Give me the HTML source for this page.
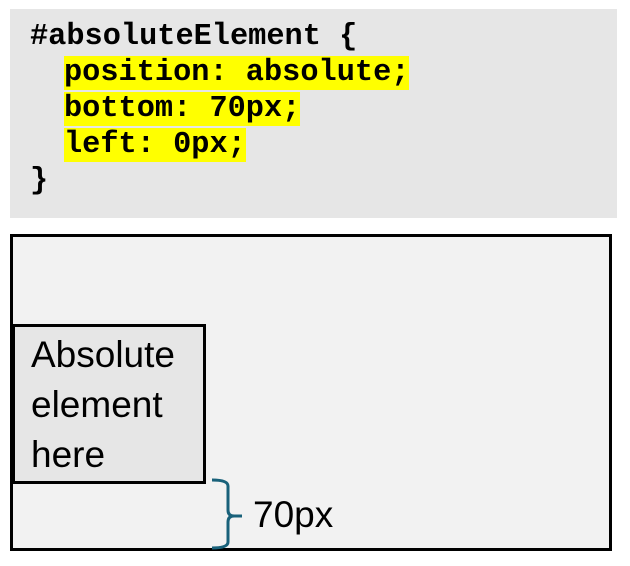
<!DOCTYPE html>
<html><head><style>
body{margin:0;width:630px;height:566px;background:#fff;position:relative;overflow:hidden}
.code{position:absolute;left:10px;top:9px;width:607px;height:209px;background:#e6e6e6}
.ln{position:absolute;font-family:"Liberation Mono",monospace;font-weight:bold;font-size:30.3px;line-height:35px;height:35px;color:#000;white-space:pre}
.hl{background:#ffff00}
.outer{position:absolute;left:10px;top:234px;width:596px;height:311px;border:3px solid #000;background:#f2f2f2}
.inner{position:absolute;left:12px;top:324px;width:188px;height:154px;border:3px solid #000;background:#e6e6e6}
.t{position:absolute;font-family:"Liberation Sans",sans-serif;font-size:37px;color:#000;white-space:nowrap}
</style></head><body>
<div class="code"></div>
<div class="ln" style="left:30px;top:20px">#absoluteElement {</div>
<div class="ln" style="left:64px;top:56px"><span class="hl">position: absolute;</span></div>
<div class="ln" style="left:64px;top:92px"><span class="hl">bottom: 70px;</span></div>
<div class="ln" style="left:64px;top:128px"><span class="hl">left: 0px;</span></div>
<div class="ln" style="left:30px;top:164px">}</div>
<div class="outer"></div>
<div class="inner"></div>
<div class="t" style="left:31px;top:330px;line-height:50px">Absolute<br>element<br>here</div>
<svg style="position:absolute;left:0;top:0" width="630" height="566">
<path d="M212 480 Q228 480 228 486 L228 510 Q228 516 234 516 L242 516 M234 516 Q228 516 228 522 L228 542 Q228 548 212 548" fill="none" stroke="#19617a" stroke-width="3"/>
</svg>
<div class="t" style="left:253px;top:495px;line-height:40px">70px</div>
</body></html>
